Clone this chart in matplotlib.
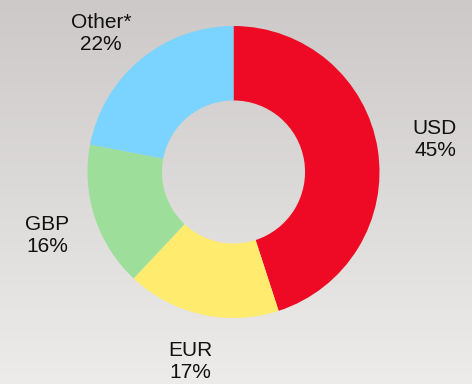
import matplotlib.pyplot as plt
import numpy as np

# currency split
currencies = ["USD", "EUR", "GBP", "Other*"]
shares = [45, 17, 16, 22]
colors = ["#ee0a24", "#ffeb6e", "#9ddf9a", "#7bd3ff"]

W, H = 472, 384
fig = plt.figure(figsize=(W / 100, H / 100), dpi=100)
ax = fig.add_axes([0, 0, 1, 1])

# soft grey gradient behind the chart (darker at top)
top = np.array([0.800, 0.788, 0.784])
bottom = np.array([0.929, 0.925, 0.918])
t = np.linspace(0, 1, 256)[:, None]
grad = top + (bottom - top) * t
ax.imshow(grad[:, None, :].repeat(2, axis=1), extent=(0, W, 0, H),
          aspect="auto", zorder=0, interpolation="bilinear")

cx, cy, r = 233.5, H - 172, 146
ax.pie(shares, colors=colors, startangle=90, counterclock=False,
       center=(cx, cy), radius=r, wedgeprops=dict(width=r * 0.51, linewidth=0),
       frame=True)

# label spots (pixels from top-left)
label_pos = [(435, 140), (190, 362), (47, 235), (101, 34)]
for name, val, (lx, ly) in zip(currencies, shares, label_pos):
    ax.text(lx, H - ly, f"{name}\n{val}%", ha="center", va="center",
            fontsize=15, family="Liberation Sans", color="#111111",
            linespacing=1.2)

ax.set_xlim(0, W)
ax.set_ylim(0, H)
ax.set_aspect("auto")
ax.axis("off")

fig.savefig("out.png", dpi=100)
